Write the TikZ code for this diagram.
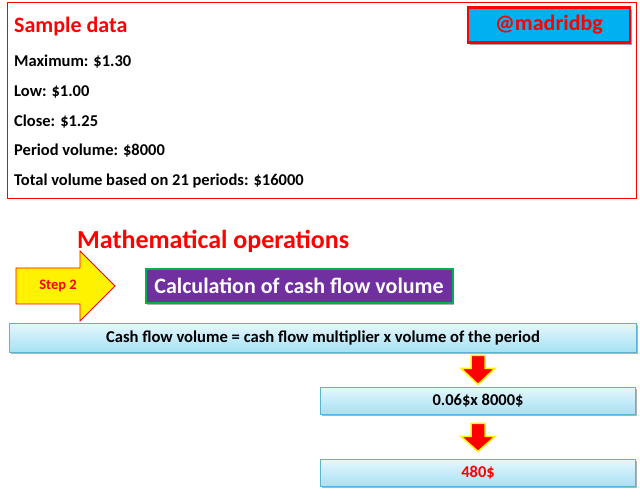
\documentclass[tikz,border=0pt]{standalone}
\usepackage{fontspec}
\setmainfont{Carlito}
\usepackage{xcolor}
\usepackage{tikz}
\usetikzlibrary{positioning,shadows,calc}

\definecolor{tagblue}{HTML}{00B0F0}
\definecolor{opviolet}{HTML}{7030A0}
\definecolor{opgreen}{HTML}{00B050}
\definecolor{boxtop}{HTML}{E6F7FD}
\definecolor{boxbot}{HTML}{A6E1F4}
\definecolor{boxline}{HTML}{5AB4D2}

\tikzset{
  datatext/.style={anchor=west, inner sep=0pt, font=\fontsize{16.5}{19}\selectfont\bfseries},
  calcbox/.style={draw=boxline, line width=0.8pt, top color=boxtop, bottom color=boxbot,
    inner sep=0pt, minimum height=27, font=\fontsize{16.5}{19}\selectfont\bfseries,
    drop shadow={shadow xshift=1.2pt, shadow yshift=-1.5pt, opacity=0.3, fill=black}},
  blockdown/.style={fill=red, draw=yellow, line width=1.5pt, line join=miter}
}

\begin{document}
\begin{tikzpicture}[x=1pt, y=-1pt]
    \useasboundingbox (0,0) rectangle (640,498);
    % sample data
    \draw[red, line width=1pt] (7,2) rectangle (636,198);
    \node[draw=red, fill=tagblue, line width=2.5pt, minimum width=162, minimum height=35,
          inner sep=0pt, text=red, font=\fontsize{22}{26}\selectfont\bfseries,
          drop shadow={shadow xshift=2pt, shadow yshift=-2pt, opacity=0.35, fill=black}]
          (tag) at (549,25) {@madridbg};
    \node[anchor=west, inner sep=0pt, text=red, font=\fontsize{22}{26}\selectfont\bfseries]
          (title) at (14,27) {Sample data};
    \node[datatext] (max) at (14,62) {Maximum: \$1.30};
    \node[datatext] (low) at (14,92) {Low: \$1.00};
    \node[datatext] (close) at (14,122) {Close: \$1.25};
    \node[datatext] (pvol) at (14,151) {Period volume: \$8000};
    \node[datatext] (tvol) at (14,181) {Total volume based on 21 periods: \$16000};
    % mathematical operations
    \node[anchor=west, inner sep=0pt, text=red, font=\fontsize{26}{31}\selectfont\bfseries]
          (ops) at (77,241) {Mathematical operations};
    \draw[fill=yellow, draw=red, line width=0.8pt]
          (16,268) -- (80,268) -- (80,251) -- (115,286) -- (80,321) -- (80,304) -- (16,304) -- cycle;
    \node[text=red, font=\fontsize{14.5}{17}\selectfont\bfseries] (step) at (58,286) {Step 2};
    \node[draw=opgreen, fill=opviolet, line width=2pt, minimum width=307, minimum height=34,
          inner sep=0pt, text=white, font=\fontsize{22}{26}\selectfont\bfseries,
          drop shadow={shadow xshift=1.5pt, shadow yshift=-1.5pt, opacity=0.3, fill=black}]
          (calc) at (299,286) {Calculation of cash flow volume};
    % formula and result
    \node[calcbox, minimum width=627, minimum height=29, font=\fontsize{16.6}{19}\selectfont\bfseries]
          (formula) at (323,337.5) {Cash flow volume = cash flow multiplier x volume of the period};
    \node[calcbox, minimum width=315] (product) at (478,400.5) {0.06\$x 8000\$};
    \node[calcbox, minimum width=315, text=red] (result) at (478,473) {480\$};
    \draw[blockdown] ($(formula.south -| product.north)+(-7,3)$)
          -- ++(14,0) -- ++(0,13) -- ++(10,0) -- ++(-17,16) -- ++(-17,-16) -- ++(10,0) -- cycle;
    \draw[blockdown] ($(product.south)+(-7,9)$)
          -- ++(14,0) -- ++(0,13) -- ++(10,0) -- ++(-17,15) -- ++(-17,-15) -- ++(10,0) -- cycle;
\end{tikzpicture}
\end{document}
